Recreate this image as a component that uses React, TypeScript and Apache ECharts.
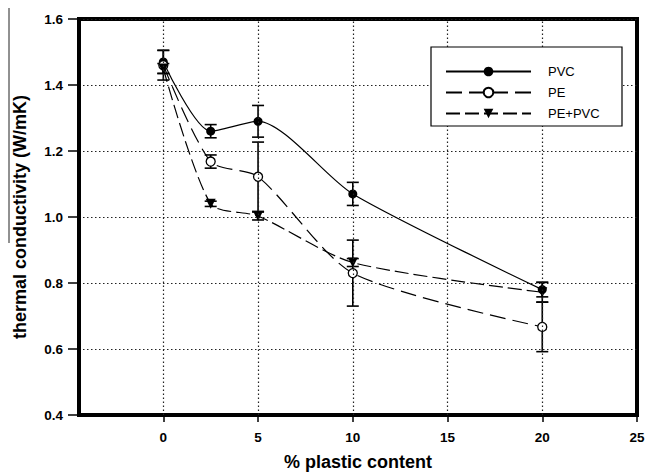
import React, { useEffect, useRef } from "react";
import * as echarts from "echarts";

const X_VALUES = [0, 2.5, 5, 10, 20];
const X_TICKS = [0, 5, 10, 15, 20, 25];
const X_GRID = [0, 5, 10, 15, 20];

const PVC = [1.47, 1.26, 1.29, 1.07, 0.78];
const PVC_ERR = [0.035, 0.02, 0.048, 0.035, 0.022];
const PE = [1.46, 1.168, 1.122, 0.83, 0.667];
const PE_ERR = [0.045, 0.02, 0.105, 0.1, 0.075];
const PEPVC = [1.45, 1.04, 1.003, 0.862, 0.772];
const PEPVC_ERR = [0.015, 0.008, 0.012, 0.012, 0.03];

const FONT = "'Liberation Sans', Arial, sans-serif";

function errSeries(vals: number[], errs: number[]) {
  return {
    type: "custom",
    silent: true,
    z: 1,
    encode: { x: 0, y: [1, 2] },
    data: X_VALUES.map((x, i) => [x, vals[i] - errs[i], vals[i] + errs[i]]),
    renderItem: (_params: any, api: any) => {
      const x = api.value(0);
      const lo = api.coord([x, api.value(1)]);
      const hi = api.coord([x, api.value(2)]);
      const hw = 6;
      const st = { stroke: "#000", lineWidth: 1.6 };
      return {
        type: "group",
        children: [
          { type: "line", shape: { x1: lo[0], y1: lo[1], x2: hi[0], y2: hi[1] }, style: st },
          { type: "line", shape: { x1: lo[0] - hw, y1: lo[1], x2: lo[0] + hw, y2: lo[1] }, style: st },
          { type: "line", shape: { x1: hi[0] - hw, y1: hi[1], x2: hi[0] + hw, y2: hi[1] }, style: st },
        ],
      };
    },
  };
}

export default function App() {
  const ref = useRef<HTMLDivElement>(null);
  useEffect(() => {
    document.body.style.margin = "0";
    if (!ref.current) return;
    const chart = echarts.init(ref.current, null, { renderer: "svg" });
    const dotted = { type: [1.5, 2.5], color: "#222", width: 1.2 };
    chart.setOption({
      animation: false,
      backgroundColor: "#fff",
      grid: {
        left: 79,
        right: 11,
        top: 19,
        bottom: 57,
        show: true,
        borderColor: "#000",
        borderWidth: 4,
        backgroundColor: "transparent",
      },
      xAxis: {
        type: "value",
        min: -4.45,
        max: 25,
        name: "% plastic content",
        nameLocation: "middle",
        nameGap: 38,
        nameTextStyle: { fontFamily: FONT, fontWeight: "bold", fontSize: 18, color: "#000" },
        axisLine: { show: true, onZero: false, lineStyle: { color: "#000", width: 4 } },
        axisTick: { show: true, length: 7, customValues: X_TICKS, lineStyle: { color: "#000", width: 1.5 } },
        axisLabel: {
          customValues: X_TICKS,
          margin: 15,
          fontFamily: FONT,
          fontWeight: "bold",
          fontSize: 13.5,
          color: "#000",
        },
        splitLine: { show: false },
      },
      yAxis: {
        type: "value",
        min: 0.4,
        max: 1.6,
        interval: 0.2,
        name: "thermal conductivity (W/mK)",
        nameLocation: "middle",
        nameGap: 50,
        nameTextStyle: { fontFamily: FONT, fontWeight: "bold", fontSize: 18, color: "#000" },
        axisLine: { show: true, onZero: false, lineStyle: { color: "#000", width: 4 } },
        axisTick: { show: true, length: 11, lineStyle: { color: "#000", width: 1.5 } },
        axisLabel: {
          margin: 16,
          fontFamily: FONT,
          fontWeight: "bold",
          fontSize: 13.5,
          color: "#000",
          formatter: (v: number) => v.toFixed(1),
        },
        splitLine: { show: true, lineStyle: dotted },
      },
      legend: {
        data: ["PVC", "PE", "PE+PVC"],
        orient: "vertical",
        left: 440,
        top: 60,
        itemWidth: 85,
        itemHeight: 12,
        itemGap: 8,
        z: 100,
        textStyle: { fontFamily: FONT, fontSize: 13, color: "#000", padding: [0, 0, 0, 12] },
      },
      graphic: [
        {
          type: "rect",
          z: 50,
          shape: { x: 431, y: 47, width: 191, height: 79 },
          style: { fill: "#fff", stroke: "#000", lineWidth: 1.2 },
        },
        {
          type: "line",
          z: 50,
          shape: { x1: 9, y1: 8, x2: 9, y2: 243 },
          style: { stroke: "#222", lineWidth: 1 },
        },
      ],
      series: [
        errSeries(PVC, PVC_ERR),
        errSeries(PE, PE_ERR),
        errSeries(PEPVC, PEPVC_ERR),
        {
          name: "PVC",
          type: "line",
          z: 3,
          smooth: 0.25,
          data: X_VALUES.map((x, i) => [x, PVC[i]]),
          symbol: "circle",
          symbolSize: 9,
          itemStyle: { color: "#000" },
          lineStyle: { color: "#000", width: 1.2, type: "solid" },
          markLine: {
            silent: true,
            symbol: ["none", "none"],
            label: { show: false },
            lineStyle: dotted,
            data: X_GRID.map((v) => ({ xAxis: v })),
          },
        },
        {
          name: "PE",
          type: "line",
          z: 3,
          smooth: 0.25,
          data: X_VALUES.map((x, i) => [x, PE[i]]),
          symbol: "circle",
          symbolSize: 9,
          itemStyle: { color: "#fff", borderColor: "#000", borderWidth: 1.3 },
          lineStyle: { color: "#000", width: 1.2, type: [16, 7] },
        },
        {
          name: "PE+PVC",
          type: "line",
          z: 3,
          smooth: 0.25,
          data: X_VALUES.map((x, i) => [x, PEPVC[i]]),
          symbol: "triangle",
          symbolRotate: 180,
          symbolSize: 10,
          itemStyle: { color: "#000" },
          lineStyle: { color: "#000", width: 1.2, type: [14, 5] },
        },
      ],
    });
    return () => chart.dispose();
  }, []);
  return <div ref={ref} style={{ width: 648, height: 476 }} />;
}
